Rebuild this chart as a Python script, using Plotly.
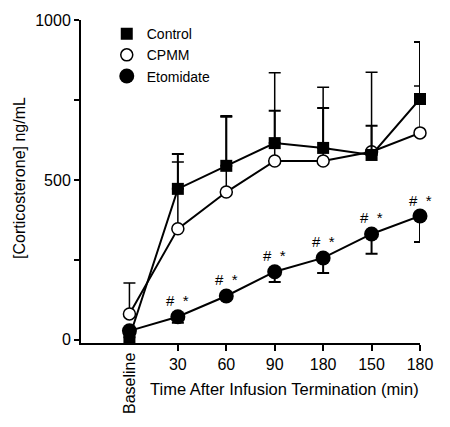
import plotly.graph_objects as go

tick_labels = ["Baseline", "30", "60", "90", "180", "150", "180"]
x_pos = list(range(len(tick_labels)))

control = [8, 472, 544, 615, 600, 578, 753]
control_err_up = [0, 109, 156, 101, 125, 91, 178]

cpmm = [81, 347, 462, 559, 559, 588, 647]
cpmm_err_up = [97, 209, 235, 276, 231, 249, 147]

etomidate = [28, 72, 137, 213, 256, 331, 387]
etomidate_err_down = [0, 19, 10, 32, 47, 62, 81]

sig_labels = ["", "#\u00a0\u00a0*", "#\u00a0\u00a0*", "#\u00a0\u00a0*", "#\u00a0\u00a0*",
              "#\u00a0\u00a0*", "#\u00a0\u00a0*"]

FONT = "Liberation Sans, Arial, sans-serif"
zeros = [0] * len(x_pos)

fig = go.Figure()

fig.add_trace(go.Scatter(
    x=x_pos, y=cpmm, mode="lines+markers", showlegend=False, cliponaxis=False,
    line=dict(color="black", width=2),
    marker=dict(symbol="circle", size=12, color="white", line=dict(color="black", width=1.5)),
    error_y=dict(type="data", symmetric=False, array=cpmm_err_up, arrayminus=zeros,
                 color="black", thickness=1.5, width=6),
))
fig.add_trace(go.Scatter(
    x=x_pos, y=control, mode="lines+markers", showlegend=False, cliponaxis=False,
    line=dict(color="black", width=2),
    marker=dict(symbol="square", size=12, color="black"),
    error_y=dict(type="data", symmetric=False, array=control_err_up, arrayminus=zeros,
                 color="black", thickness=2, width=6),
))
fig.add_trace(go.Scatter(
    x=x_pos, y=etomidate, mode="lines+markers", showlegend=False, cliponaxis=False,
    line=dict(color="black", width=2),
    marker=dict(symbol="circle", size=15, color="black"),
    error_y=dict(type="data", symmetric=False, array=zeros, arrayminus=etomidate_err_down,
                 color="black", thickness=2, width=6),
))

# legend entries
fig.add_trace(go.Scatter(x=[None], y=[None], mode="markers", name="Control",
                         marker=dict(symbol="square", size=12, color="black")))
fig.add_trace(go.Scatter(x=[None], y=[None], mode="markers", name="CPMM",
                         marker=dict(symbol="circle", size=12, color="white",
                                     line=dict(color="black", width=1.5))))
fig.add_trace(go.Scatter(x=[None], y=[None], mode="markers", name="Etomidate",
                         marker=dict(symbol="circle", size=15, color="black")))

annotations = []
for xi, yi, s in zip(x_pos, etomidate, sig_labels):
    if s:
        annotations.append(dict(x=xi, y=yi, xref="x", yref="y", text=s, showarrow=False,
                                yshift=16, font=dict(family=FONT, size=15, color="black")))

annotations.append(dict(x=x_pos[0], y=-0.025, xref="x", yref="paper", text=tick_labels[0],
                        textangle=-90, showarrow=False, xanchor="center", yanchor="top",
                        font=dict(family=FONT, size=16, color="black")))
annotations.append(dict(x=0.599, y=-0.142, xref="paper", yref="paper",
                        text="Time After Infusion Termination (min)", showarrow=False,
                        xanchor="center", yanchor="middle",
                        font=dict(family=FONT, size=16.5, color="black")))
annotations.append(dict(x=-0.18, y=0.511, xref="paper", yref="paper",
                        text="[Corticosterone] ng/mL", textangle=-90, showarrow=False,
                        xanchor="center", yanchor="middle",
                        font=dict(family=FONT, size=16, color="black")))

fig.update_layout(
    width=450, height=427,
    margin=dict(l=73, r=38, t=12, b=92, autoexpand=False),
    paper_bgcolor="white", plot_bgcolor="white",
    font=dict(family=FONT, size=16, color="black"),
    showlegend=True,
    legend=dict(x=0.076, y=1.006, xanchor="left", yanchor="top",
                font=dict(family=FONT, size=14, color="black"),
                bgcolor="rgba(0,0,0,0)", tracegroupgap=5.5, itemwidth=30),
    annotations=annotations,
    xaxis=dict(range=[-1, 6], tickmode="array", tickvals=x_pos[1:], ticktext=tick_labels[1:],
               automargin=False,
               showline=True, linecolor="black", linewidth=2, ticks="outside",
               ticklen=6, tickwidth=2, tickcolor="black", showgrid=False, zeroline=False,
               tickfont=dict(family=FONT, size=16, color="black")),
    yaxis=dict(range=[-10, 1000], tickvals=[0, 500, 1000], showline=True, linecolor="black",
               automargin=False,
               linewidth=2, ticks="outside", ticklen=5, tickwidth=2, tickcolor="black",
               minor=dict(tickvals=[250, 750], ticks="outside", ticklen=5, tickwidth=1.5,
                          tickcolor="black"),
               showgrid=False, zeroline=False,
               tickfont=dict(family=FONT, size=16, color="black")),
)

fig.write_html("out.html")
